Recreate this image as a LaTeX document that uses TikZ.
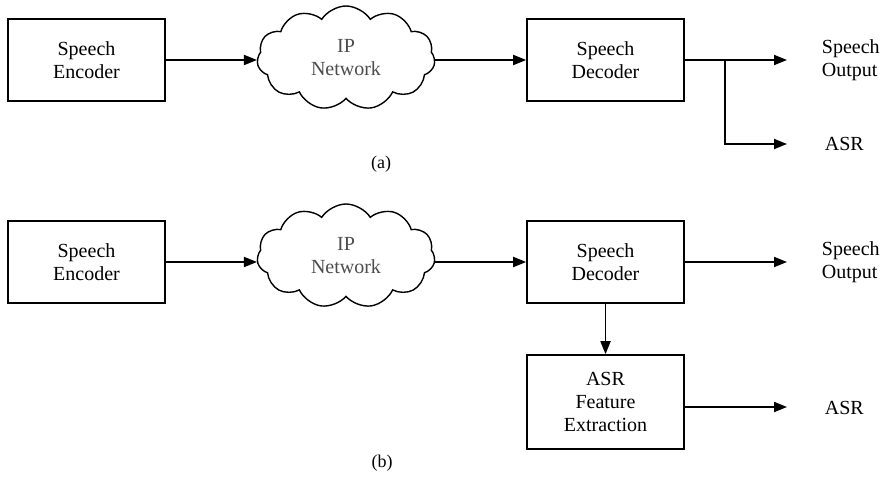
\documentclass[tikz,border=0pt]{standalone}
\usepackage{fontspec}
\setmainfont{Liberation Serif}
\usetikzlibrary{shapes.symbols,arrows.meta}
\begin{document}
\begin{tikzpicture}[x=1pt,y=-1pt,
  font=\fontsize{20}{23}\selectfont,
  line width=1.8pt,
  block/.style={draw, line width=1.6pt, minimum width=157pt, minimum height=82pt, align=center, inner sep=0pt},
  net/.style={cloud, draw, line width=1.4pt, cloud puffs=11, cloud puff arc=115, aspect=1.7,
              minimum width=178pt, minimum height=104pt, inner sep=0pt, align=center, text=black!70},
  flow/.style={-{Triangle[length=13pt,width=10pt]}},
  outlabel/.style={anchor=west, align=left, inner sep=0pt},
  caption/.style={inner sep=0pt}]
\useasboundingbox (0,0) rectangle (882,478);

% ---- (a) decoded speech fed to the recogniser ----
\node[block] (encA) at (86.5,60) {Speech\\Encoder};
\node[net] (netA) at (346,58) {IP\\Network};
\node[block] (decA) at (605.5,60) {Speech\\Decoder};
\coordinate (spA) at (787,60);
\coordinate (brA) at (725,60);
\coordinate (asrA) at (787,144);
\node[outlabel] (spTxtA) at (821,60) {Speech\\Output};
\node[outlabel] (asrTxtA) at (824,144) {ASR};
\node[caption] (capA) at (381,164) {\fontsize{18}{20}\selectfont(a)};

\draw[flow] (encA.east) -- (encA.east -| netA.west);
\draw[flow] (netA.east |- decA.west) -- (decA.west);
\draw[flow] (decA.east) -- (spA);
\draw[flow] (brA) |- (asrA);

% ---- (b) recogniser features taken from the decoder ----
\node[block] (encB) at (86.5,262) {Speech\\Encoder};
\node[net] (netB) at (346,256) {IP\\Network};
\node[block] (decB) at (605.5,262) {Speech\\Decoder};
\node[block, minimum height=94pt] (featB) at (605.5,402) {ASR\\Feature\\Extraction};
\coordinate (spB) at (787,262);
\coordinate (asrB) at (787,407);
\node[outlabel] (spTxtB) at (821,262) {Speech\\Output};
\node[outlabel] (asrTxtB) at (824,408) {ASR};
\node[caption] (capB) at (382,463) {\fontsize{18}{20}\selectfont(b)};

\draw[flow] (encB.east) -- (encB.east -| netB.west);
\draw[flow] (netB.east |- decB.west) -- (decB.west);
\draw[flow] (decB.east) -- (spB);
\draw[flow] (decB.south) -- (featB.north);
\draw[flow] (featB.east |- asrB) -- (asrB);
\end{tikzpicture}
\end{document}
